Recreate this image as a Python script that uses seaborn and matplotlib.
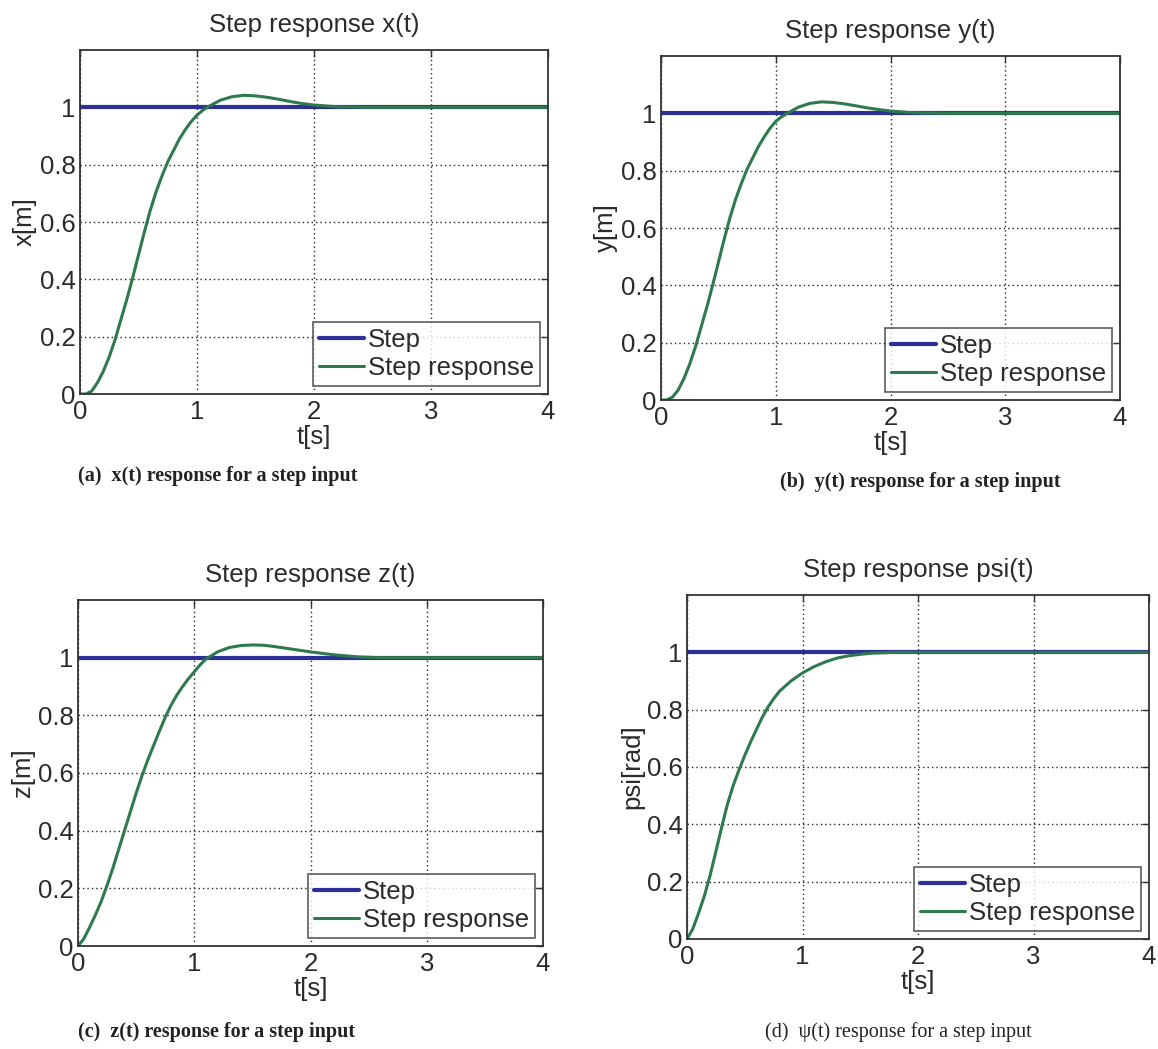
import numpy as np
import pandas as pd
import matplotlib
matplotlib.use("Agg")
import matplotlib.pyplot as plt
import seaborn as sns

# ---------------- data ----------------
step_t = [0.0, 4.0]
step_y = [1.0, 1.0]

x_t = [0, 0.05, 0.1, 0.15, 0.2, 0.25, 0.3, 0.35, 0.4, 0.45, 0.5, 0.55, 0.6, 0.65,
       0.7, 0.75, 0.8, 0.85, 0.9, 0.95, 1.0, 1.05, 1.1, 1.2, 1.3, 1.4, 1.5, 1.6,
       1.7, 1.8, 1.9, 2.0, 2.2, 2.5, 3.0, 4.0]
x_resp = [0, 0.0, 0.01, 0.04, 0.08, 0.13, 0.19, 0.26, 0.33, 0.405, 0.485, 0.565,
          0.64, 0.705, 0.76, 0.81, 0.85, 0.89, 0.922, 0.95, 0.973, 0.99, 1.003,
          1.025, 1.037, 1.042, 1.04, 1.035, 1.028, 1.02, 1.013, 1.008, 1.002,
          1.0, 1.0, 1.0]

y_t = [0, 0.05, 0.1, 0.15, 0.2, 0.25, 0.3, 0.35, 0.4, 0.45, 0.5, 0.55, 0.6, 0.65,
       0.7, 0.75, 0.8, 0.85, 0.9, 0.95, 1.0, 1.05, 1.1, 1.2, 1.3, 1.4, 1.5, 1.6,
       1.7, 1.8, 1.9, 2.0, 2.2, 2.5, 3.0, 4.0]
y_resp = [0, 0.0, 0.01, 0.035, 0.075, 0.125, 0.185, 0.255, 0.325, 0.4, 0.48, 0.56,
          0.635, 0.7, 0.755, 0.805, 0.845, 0.885, 0.918, 0.948, 0.972, 0.988,
          1.0, 1.022, 1.035, 1.04, 1.038, 1.033, 1.026, 1.019, 1.013, 1.008,
          1.002, 1.0, 1.0, 1.0]

z_t = [0, 0.05, 0.1, 0.15, 0.2, 0.25, 0.3, 0.35, 0.4, 0.45, 0.5, 0.55, 0.6, 0.65,
       0.7, 0.75, 0.8, 0.85, 0.9, 0.95, 1.0, 1.05, 1.1, 1.2, 1.3, 1.4, 1.5, 1.6,
       1.7, 1.8, 1.9, 2.0, 2.2, 2.4, 2.6, 3.0, 4.0]
z_resp = [0, 0.025, 0.065, 0.108, 0.155, 0.21, 0.27, 0.335, 0.4, 0.465, 0.53,
          0.59, 0.645, 0.695, 0.745, 0.793, 0.835, 0.87, 0.9, 0.927, 0.951,
          0.975, 0.995, 1.02, 1.035, 1.042, 1.044, 1.043, 1.038, 1.032, 1.026,
          1.02, 1.01, 1.003, 1.0, 1.0, 1.0]

psi_t = [0, 0.05, 0.1, 0.15, 0.2, 0.25, 0.3, 0.35, 0.4, 0.45, 0.5, 0.55, 0.6, 0.65,
         0.7, 0.75, 0.8, 0.9, 1.0, 1.1, 1.2, 1.3, 1.4, 1.5, 1.6, 1.8, 2.0, 3.0, 4.0]
psi_resp = [0, 0.035, 0.09, 0.15, 0.222, 0.305, 0.39, 0.47, 0.535, 0.59, 0.64,
            0.687, 0.73, 0.772, 0.808, 0.838, 0.864, 0.9, 0.928, 0.95, 0.967, 0.98,
            0.988, 0.993, 0.997, 1.0, 1.0, 1.0, 1.0]

titles = ["Step response x(t)", "Step response y(t)", "Step response z(t)", "Step response psi(t)"]
ylabels = ["x[m]", "y[m]", "z[m]", "psi[rad]"]
captions = ["(a)  x(t) response for a step input",
            "(b)  y(t) response for a step input",
            "(c)  z(t) response for a step input",
            "(d)  \u03c8(t) response for a step input"]
legend_labels = ["Step", "Step response"]
xticks = [0, 1, 2, 3, 4]
xtick_labels = ["0", "1", "2", "3", "4"]
yticks = [0, 0.2, 0.4, 0.6, 0.8, 1.0]
ytick_labels = ["0", "0.2", "0.4", "0.6", "0.8", "1"]

series = [(x_t, x_resp), (y_t, y_resp), (z_t, z_resp), (psi_t, psi_resp)]

# ---------------- style ----------------
sns.set_theme(style="white")
plt.rcParams["font.family"] = ["Liberation Sans", "DejaVu Sans"]
TXT = "#2b2b2b"
BLUE = "#2c2f96"
GREEN = "#2e7a4c"
FS = 18.5

W, H = 1158, 1049
fig = plt.figure(figsize=(W / 100, H / 100), dpi=100)
fig.patch.set_facecolor("white")

# axes boxes in pixels: left, right, top, bottom
boxes = [(80, 548, 50, 394), (661, 1120, 56, 400), (78, 543, 600, 946), (687, 1149, 595, 939)]
cap_pos = [(78, 476), (780, 482), (78, 1032), (765, 1032)]

for i, (l, r, t, b) in enumerate(boxes):
    ax = fig.add_axes([l / W, 1 - b / H, (r - l) / W, (b - t) / H])
    df_step = pd.DataFrame({"t": step_t, "v": step_y})
    tt, vv = series[i]
    df_resp = pd.DataFrame({"t": tt, "v": vv})
    sns.lineplot(data=df_step, x="t", y="v", ax=ax, color=BLUE, lw=3.0,
                 label=legend_labels[0], estimator=None, sort=False)
    sns.lineplot(data=df_resp, x="t", y="v", ax=ax, color=GREEN, lw=2.2,
                 label=legend_labels[1], estimator=None, sort=False)
    ax.set_xlim(0, 4)
    ax.set_ylim(0, 1.2)
    ax.set_xticks(xticks)
    ax.set_xticklabels(xtick_labels)
    ax.set_yticks(yticks)
    ax.set_yticklabels(ytick_labels)
    ax.grid(True, ls=(0, (1, 2.2)), color="#222222", lw=1.0)
    ax.set_axisbelow(True)
    for s in ax.spines.values():
        s.set_visible(True)
        s.set_color("#333333")
        s.set_linewidth(1.3)
    ax.tick_params(direction="in", length=5, width=1, colors="#333333",
                   labelcolor=TXT, labelsize=FS, pad=4, top=True, right=True)
    ax.tick_params(axis="y", pad=3)
    ax.set_title(titles[i], fontsize=FS, color=TXT, pad=13)
    ax.set_xlabel("t[s]", fontsize=FS, color=TXT, labelpad=1)
    ax.set_ylabel(ylabels[i], fontsize=FS, color=TXT, labelpad=2)
    leg = ax.legend(loc="lower right", fontsize=FS, frameon=True, fancybox=False,
                    handlelength=1.75, handletextpad=0.15, labelspacing=0.15,
                    borderpad=0.25, borderaxespad=0.3)
    leg.get_frame().set_edgecolor("#333333")
    leg.get_frame().set_linewidth(1.2)
    for txt in leg.get_texts():
        txt.set_color(TXT)
    cx, cy = cap_pos[i]
    fig.text(cx / W, 1 - cy / H, captions[i],
             family=["Liberation Serif", "DejaVu Serif"],
             fontweight=("normal" if i == 3 else "bold"), fontsize=14.5,
             color="#222222", ha="left", va="center")

fig.savefig("out.png", dpi=100, facecolor="white")
